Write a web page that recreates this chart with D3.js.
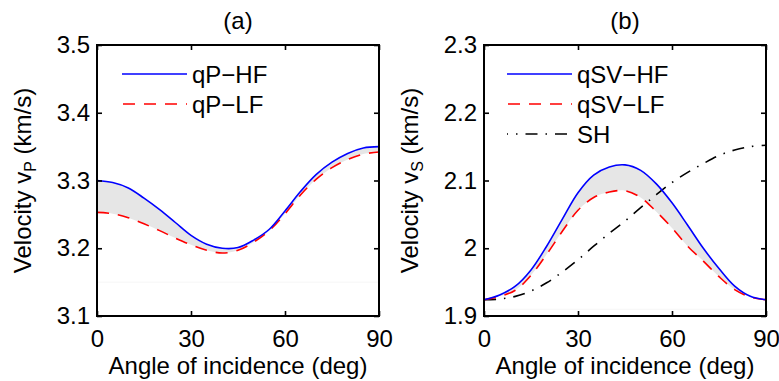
<!DOCTYPE html>
<html><head><meta charset="utf-8">
<script src="https://cdn.jsdelivr.net/npm/d3@7"></script>
<style>
html,body{margin:0;padding:0;background:#fff;}
svg{display:block;font-family:"Liberation Sans",Arial,Helvetica,sans-serif;}
</style></head>
<body><svg id="chart" width="779" height="381"></svg>
<script>
// ---- data (5-degree steps) ----
const angles = [0,5,10,15,20,25,30,35,40,45,50,55,60,65,70,75,80,85,90];
const qP_HF  = [3.300,3.297,3.289,3.274,3.257,3.238,3.219,3.206,3.200,3.201,3.212,3.228,3.255,3.284,3.309,3.327,3.340,3.348,3.350];
const qP_LF  = [3.253,3.251,3.245,3.236,3.226,3.215,3.205,3.197,3.193,3.197,3.209,3.226,3.251,3.279,3.302,3.319,3.331,3.339,3.342];
const qSV_HF = [1.924,1.931,1.944,1.968,2.003,2.043,2.082,2.108,2.120,2.123,2.115,2.095,2.067,2.034,2.000,1.970,1.944,1.929,1.924];
const qSV_LF = [1.924,1.929,1.938,1.960,1.991,2.025,2.056,2.075,2.083,2.085,2.075,2.054,2.030,2.003,1.981,1.958,1.939,1.928,1.924];
const SH     = [1.924,1.925,1.929,1.937,1.949,1.965,1.983,2.003,2.022,2.040,2.060,2.079,2.097,2.112,2.125,2.137,2.145,2.150,2.152];
const xTicks = [0,30,60,90];
const yTicksA = [3.1,3.2,3.3,3.4,3.5];
const yTicksB = [1.9,2,2.1,2.2,2.3];
const yTickLabelsA = ["3.1","3.2","3.3","3.4","3.5"];
const yTickLabelsB = ["1.9","2","2.1","2.2","2.3"];

const svg = d3.select("#chart");
const FS = 24;
const CURVE = d3.curveCatmullRom.alpha(0.5);

function panel(opts){
  const {left,right,top,bottom,yDomain,yTicks,yLabels,title,sub,series,fillPair,legendX,faint} = opts;
  const x = d3.scaleLinear().domain([0,90]).range([left,right]);
  const y = d3.scaleLinear().domain(yDomain).range([bottom,top]);
  const g = svg.append("g");

  // faint line artefact
  g.append("line").attr("x1",left).attr("x2",right).attr("y1",y(faint)).attr("y2",y(faint))
    .attr("stroke","#f6f6f6").attr("stroke-width",1);

  // fill between HF and LF
  const hf = fillPair[0], lf = fillPair[1];
  const area = d3.area().x((d,i)=>x(angles[i])).y0((d,i)=>y(lf[i])).y1((d,i)=>y(hf[i])).curve(CURVE);
  g.append("path").attr("d",area(angles)).attr("fill","#e6e6e6").attr("stroke","none");

  const line = arr => d3.line().x((d,i)=>x(angles[i])).y((d,i)=>y(arr[i])).curve(CURVE)(angles);
  series.slice().reverse().forEach(s=>{
    g.append("path").attr("d",line(s.values)).attr("fill","none")
      .attr("stroke",s.color).attr("stroke-width",1.6)
      .attr("stroke-dasharray",s.dash||null).attr("stroke-dashoffset",s.offset||0);
  });

  // axes: bottom/top/left/right with inward ticks
  const tl = 5;
  const axB = d3.axisBottom(x).tickValues(xTicks).tickSize(-tl).tickSizeOuter(0).tickPadding(tl+9).tickFormat(d3.format("d"));
  const axT = d3.axisTop(x).tickValues(xTicks).tickSize(-tl).tickSizeOuter(0).tickFormat("");
  const axL = d3.axisLeft(y).tickValues(yTicks).tickSize(-tl).tickSizeOuter(0).tickPadding(tl+2).tickFormat((d,i)=>yLabels[i]);
  const axR = d3.axisRight(y).tickValues(yTicks).tickSize(-tl).tickSizeOuter(0).tickFormat("");
  [[axB,`translate(0,${bottom})`],[axT,`translate(0,${top})`],[axL,`translate(${left},0)`],[axR,`translate(${right},0)`]].forEach(([ax,tr])=>{
    const a = g.append("g").attr("transform",tr).call(ax);
    a.select(".domain").remove();
    a.selectAll(".tick line").attr("stroke","#000").attr("stroke-width",1.6);
    a.selectAll(".tick text").attr("font-size",FS).attr("fill","#000").attr("font-family","Liberation Sans, Arial, sans-serif");
  });
  g.append("rect").attr("x",left).attr("y",top).attr("width",right-left).attr("height",bottom-top)
    .attr("fill","none").attr("stroke","#000").attr("stroke-width",2);

  // title
  g.append("text").attr("x",(left+right)/2).attr("y",top-16).attr("text-anchor","middle")
    .attr("font-size",FS).text(title);
  // x label
  g.append("text").attr("x",(left+right)/2).attr("y",bottom+58).attr("text-anchor","middle")
    .attr("font-size",FS).text("Angle of incidence (deg)");
  // y label
  const yl = g.append("text").attr("transform",`translate(${left-66},${(top+bottom)/2}) rotate(-90)`)
    .attr("text-anchor","middle").attr("font-size",FS);
  yl.append("tspan").text("Velocity v");
  yl.append("tspan").attr("font-size",16).attr("dy",5).text(sub);
  yl.append("tspan").attr("dy",-5).text(" (km/s)");

  // legend
  series.forEach((s,i)=>{
    const ly = 74 + i*30;
    g.append("line").attr("x1",legendX).attr("x2",legendX+65).attr("y1",ly).attr("y2",ly)
      .attr("stroke",s.color).attr("stroke-width",1.4).attr("stroke-dasharray",s.dash||null).attr("stroke-dashoffset",s.legOffset||0);
    g.append("text").attr("x",legendX+70).attr("y",ly).attr("dy","0.36em").attr("font-size",FS).text(s.name);
  });
}

panel({left:97,right:379,top:45,bottom:316,yDomain:[3.1,3.5],yTicks:yTicksA,yLabels:yTickLabelsA,
  title:"(a)",sub:"P",faint:3.15,legendX:122,
  fillPair:[qP_HF,qP_LF],
  series:[{name:"qP\u2212HF",values:qP_HF,color:"#0000ff"},
          {name:"qP\u2212LF",values:qP_LF,color:"#ff0000",dash:"12,9",legOffset:-1}]});

panel({left:484,right:766,top:45,bottom:316,yDomain:[1.9,2.3],yTicks:yTicksB,yLabels:yTickLabelsB,
  title:"(b)",sub:"S",faint:1.91,legendX:507,
  fillPair:[qSV_HF,qSV_LF],
  series:[{name:"qSV\u2212HF",values:qSV_HF,color:"#0000ff"},
          {name:"qSV\u2212LF",values:qSV_LF,color:"#ff0000",dash:"12,9",legOffset:-1},
          {name:"SH",values:SH,color:"#000000",dash:"12,8,1.5,8",offset:0,legOffset:11}]});
</script></body></html>
